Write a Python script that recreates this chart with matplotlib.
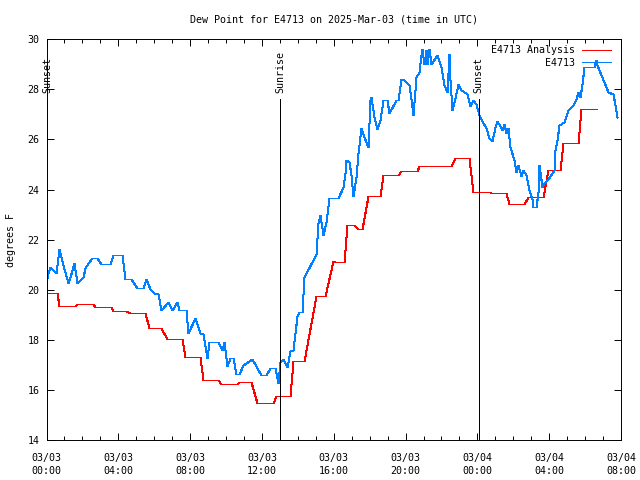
import datetime as dt
import matplotlib
matplotlib.use("Agg")
import matplotlib.pyplot as plt
import matplotlib.dates as mdates

# hours since 2025-03-03 00:00 UTC, dew point in degrees F
analysis_hours = [0.0, 0.58, 0.67, 1.56, 1.69, 2.59, 2.68, 3.61, 3.69, 4.45, 4.64, 5.51, 5.72,
                  6.39, 6.72, 7.56, 7.73, 8.55, 8.73, 9.57, 9.72, 10.60, 10.74, 11.40, 11.73,
                  12.59, 12.78, 13.56, 13.73, 14.37, 15.01, 15.53, 15.98, 16.09, 16.59, 16.74,
                  17.11, 17.34, 17.58, 17.89, 18.56, 18.73, 19.57, 19.72, 20.61, 20.74, 22.55,
                  22.74, 23.54, 23.78, 24.71, 24.78, 25.60, 25.77, 26.61, 26.80, 27.64, 27.95,
                  28.62, 28.77, 29.63, 29.78, 30.65]
analysis_vals = [19.88, 19.88, 19.35, 19.35, 19.43, 19.43, 19.32, 19.32, 19.15, 19.15, 19.07,
                 19.07, 18.46, 18.46, 18.03, 18.03, 17.30, 17.30, 16.39, 16.39, 16.23, 16.23,
                 16.31, 16.31, 15.46, 15.46, 15.75, 15.75, 17.14, 17.14, 19.74, 19.74, 21.15,
                 21.09, 21.09, 22.58, 22.58, 22.41, 22.41, 23.74, 23.74, 24.57, 24.57, 24.73,
                 24.73, 24.93, 24.93, 25.25, 25.25, 23.91, 23.91, 23.87, 23.87, 23.42, 23.42,
                 23.70, 23.70, 24.77, 24.77, 25.84, 25.84, 27.23, 27.23]

obs_hours = [0.0, 0.06, 0.17, 0.52, 0.67, 0.77, 0.91, 1.17, 1.32, 1.55, 1.69, 2.03, 2.16, 2.31,
             2.53, 2.81, 3.03, 3.56, 3.69, 4.21, 4.36, 4.71, 5.04, 5.38, 5.53, 5.75, 5.98, 6.22,
             6.39, 6.76, 7.00, 7.25, 7.37, 7.75, 7.88, 8.25, 8.55, 8.73, 8.92, 9.05, 9.57, 9.76,
             9.91, 10.07, 10.22, 10.41, 10.58, 10.74, 10.97, 11.44, 11.94, 12.23, 12.46, 12.74,
             12.87, 12.96, 13.02, 13.20, 13.39, 13.54, 13.73, 13.95, 14.04, 14.23, 14.37, 15.01,
             15.12, 15.23, 15.38, 15.57, 15.72, 16.24, 16.52, 16.61, 16.70, 16.83, 16.97, 17.08,
             17.22, 17.37, 17.53, 17.67, 17.89, 18.01, 18.08, 18.23, 18.42, 18.60, 18.75, 18.94,
             19.09, 19.44, 19.59, 19.72, 19.94, 20.18, 20.32, 20.43, 20.56, 20.74, 20.84, 20.93,
             21.02, 21.12, 21.21, 21.30, 21.44, 21.73, 21.96, 22.14, 22.33, 22.42, 22.49, 22.59,
             22.74, 22.92, 23.11, 23.22, 23.41, 23.59, 23.74, 23.91, 24.09, 24.28, 24.47, 24.65,
             24.79, 24.97, 25.12, 25.27, 25.35, 25.46, 25.59, 25.68, 25.83, 26.02, 26.15, 26.27,
             26.42, 26.52, 26.70, 26.89, 27.02, 27.09, 27.26, 27.36, 27.45, 27.50, 27.58, 27.69,
             27.95, 28.25, 28.32, 28.44, 28.56, 28.81, 29.07, 29.31, 29.50, 29.63, 29.74, 29.82,
             29.96, 30.49, 30.61, 30.67, 30.86, 31.08, 31.30, 31.55, 31.68, 31.80]
obs_vals = [20.45, 20.65, 20.89, 20.65, 21.61, 21.45, 20.98, 20.25, 20.51, 21.05, 20.25, 20.51,
            20.85, 21.05, 21.25, 21.25, 21.02, 21.02, 21.37, 21.37, 20.41, 20.41, 20.05, 20.05,
            20.41, 20.01, 19.85, 19.82, 19.19, 19.52, 19.21, 19.53, 19.19, 19.19, 18.26, 18.89,
            18.26, 18.23, 17.26, 17.92, 17.92, 17.59, 17.92, 16.95, 17.26, 17.26, 16.63, 16.63,
            16.99, 17.23, 16.59, 16.59, 16.86, 16.86, 16.26, 16.66, 17.12, 17.22, 16.92, 17.56,
            17.59, 18.95, 19.12, 19.12, 20.51, 21.42, 22.65, 22.98, 22.18, 22.71, 23.68, 23.68,
            24.11, 24.66, 25.17, 25.10, 24.57, 23.74, 24.51, 25.44, 26.44, 26.10, 25.70, 27.57,
            27.70, 26.90, 26.40, 26.77, 27.59, 27.59, 27.06, 27.59, 27.59, 28.43, 28.36, 28.16,
            27.63, 26.97, 28.50, 28.70, 29.36, 29.63, 29.03, 29.56, 29.03, 29.63, 29.03, 29.36,
            28.89, 28.16, 27.89, 29.40, 28.36, 27.19, 27.65, 28.23, 27.96, 27.94, 27.83, 27.33,
            27.57, 27.41, 26.97, 26.74, 26.44, 26.04, 25.94, 26.48, 26.74, 26.53, 26.37, 26.61,
            26.26, 26.44, 25.70, 25.17, 24.70, 24.97, 24.53, 24.80, 24.57, 23.97, 23.64, 23.31,
            23.31, 23.91, 24.97, 24.70, 24.11, 24.27, 24.44, 24.80, 25.57, 25.97, 26.57, 26.70,
            27.17, 27.37, 27.63, 27.90, 27.70, 28.23, 28.89, 28.89, 29.19, 28.96, 28.56, 28.30,
            27.90, 27.83, 27.37, 26.90]

sun_hours = [0.05, 13.02, 24.08]
sun_labels = ["Sunset", "Sunrise", "Sunset"]

start = dt.datetime(2025, 3, 3, 0, 0)


def to_times(hours):
    return [start + dt.timedelta(hours=h) for h in hours]


def main():
    plt.rcParams["font.family"] = "DejaVu Sans Mono"
    fs = 7.2
    lw = 0.72
    fig = plt.figure(figsize=(6.4, 4.8), dpi=100)
    ax = fig.add_axes([46.5 / 640, 40 / 480, 574.5 / 640, 400.7 / 480])

    ax.plot(to_times(analysis_hours), analysis_vals, color="#ff0000", lw=lw,
            label="E4713 Analysis", antialiased=False, snap=True)
    ax.plot(to_times(obs_hours), obs_vals, color="#0080ff", lw=lw,
            label="E4713", antialiased=False, snap=True)

    for h, name in zip(sun_hours, sun_labels):
        t = start + dt.timedelta(hours=h)
        ax.plot([t, t], [14, 27.6], color="black", lw=lw, antialiased=False, snap=True)
        ax.text(t, 27.85, name, rotation=90, ha="center", va="bottom", fontsize=fs)

    ax.set_xlim(start, start + dt.timedelta(hours=32))
    ax.set_ylim(14, 30)
    ax.set_yticks(range(14, 31, 2))
    ax.xaxis.set_major_locator(mdates.HourLocator(byhour=range(0, 24, 4)))
    ax.xaxis.set_minor_locator(mdates.HourLocator())
    ax.xaxis.set_major_formatter(mdates.DateFormatter("%m/%d\n%H:%M"))

    ax.tick_params(which="both", direction="in", top=True, right=True, labelsize=fs, width=0.7)
    ax.tick_params(which="major", length=5)
    ax.tick_params(which="minor", length=3)
    ax.tick_params(axis="x", pad=9)
    ax.tick_params(axis="y", pad=5)
    for lab in ax.get_xticklabels():
        lab.set_linespacing(1.45)
    for s in ax.spines.values():
        s.set_linewidth(0.7)

    ax.set_title("Dew Point for E4713 on 2025-Mar-03 (time in UTC)", fontsize=fs, pad=12)
    ax.set_ylabel("degrees F", fontsize=fs, labelpad=8)

    ax.legend(loc="upper right", bbox_to_anchor=(0.993, 1.0), frameon=False, markerfirst=False,
              fontsize=fs, handlelength=2.9, handletextpad=0.7, labelspacing=0.25,
              borderaxespad=0.2)

    fig.savefig("out.png", dpi=100)


if __name__ == "__main__":
    main()
